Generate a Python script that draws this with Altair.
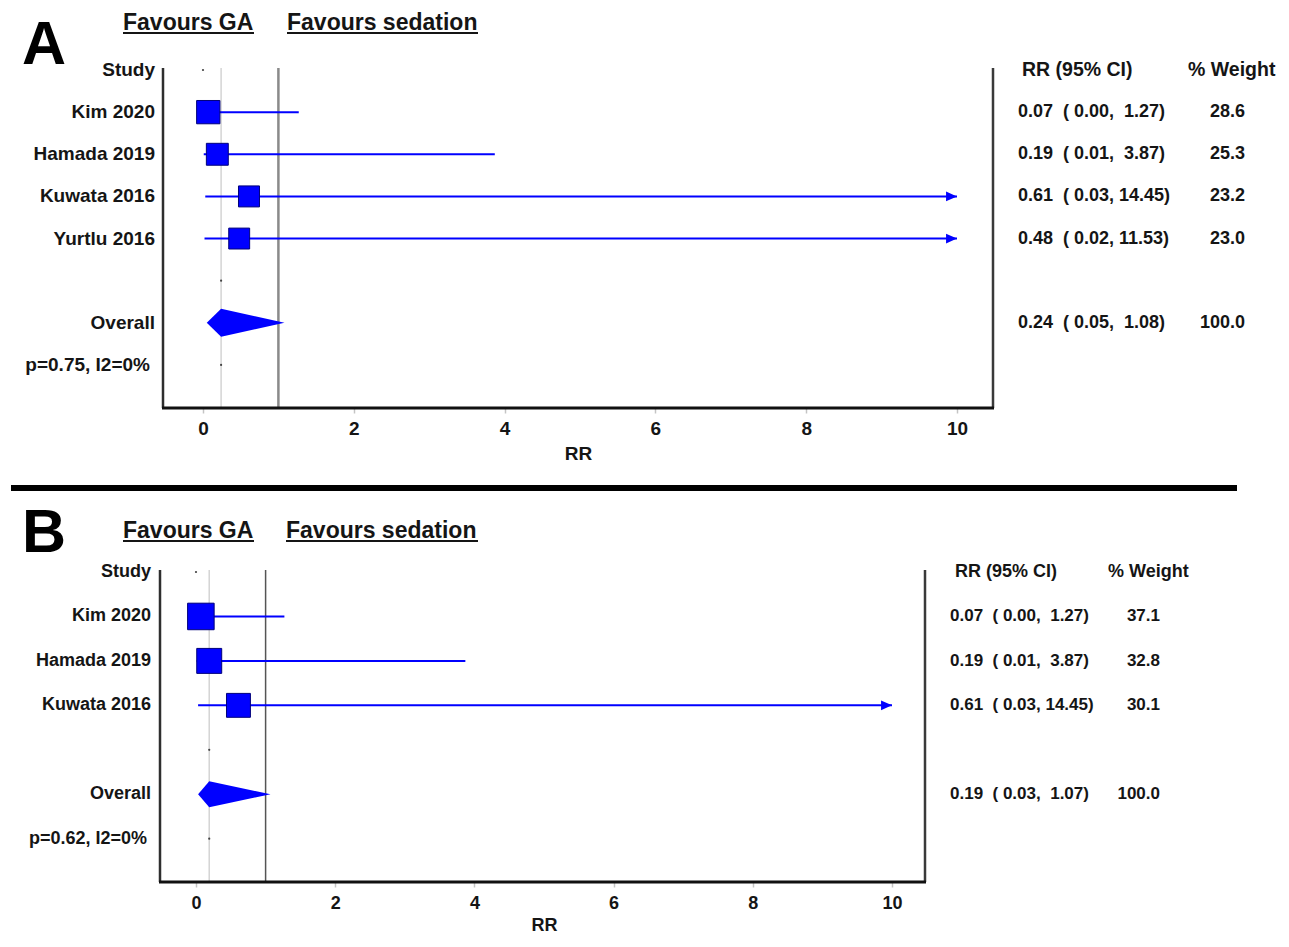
import altair as alt
import pandas as pd

FONT = "Liberation Sans"
BLUE = "#0000ff"
INK = "#151515"
NB = "\u00a0"

# ---------------- data ----------------
A_studies = ["Kim 2020", "Hamada 2019", "Kuwata 2016", "Yurtlu 2016"]
A_rr = [0.07, 0.19, 0.61, 0.48]
A_lo = [0.00, 0.01, 0.03, 0.02]
A_hi = [1.27, 3.87, 14.45, 11.53]
A_wt = [28.6, 25.3, 23.2, 23.0]
A_overall = [0.24, 0.05, 1.08]
A_het = "p=0.75, I2=0%"

B_studies = ["Kim 2020", "Hamada 2019", "Kuwata 2016"]
B_rr = [0.07, 0.19, 0.61]
B_lo = [0.00, 0.01, 0.03]
B_hi = [1.27, 3.87, 14.45]
B_wt = [37.1, 32.8, 30.1]
B_overall = [0.19, 0.03, 1.07]
B_het = "p=0.62, I2=0%"

X_TICKS = [0, 2, 4, 6, 8, 10]
X_CAP = 10
NULL_VALUE = 1
HEADERS = ["Favours GA", "Favours sedation"]
COL_HEAD = ["Study", "RR (95% CI)", "% Weight"]
OVERALL_LABEL = "Overall"

ARROW = "M0,0L-1,-0.45L-1,0.45Z"


def ci_text(a, b, c):
    s = f"{a:.2f}  ( {b:.2f}, {c:5.2f})"
    return s.replace(" ", NB)


def one():
    return alt.Chart(pd.DataFrame({"k": [0]}))


def panel(letter, studies, rr, lo, hi, wt, overall, het, L):
    x0, x1, y0, y1 = L["x0"], L["x1"], L["y0"], L["y1"]
    W, H = x1 - x0, y1 - y0
    xdom = [(x0 - L["zero"]) / L["unit"], (x1 - L["zero"]) / L["unit"]]
    ydom = [(y0 - L["row0"]) / L["step"], (y1 - L["row0"]) / L["step"]]
    xs = alt.Scale(domain=xdom, nice=False, zero=False)
    ys = alt.Scale(domain=ydom, nice=False, zero=False, reverse=True)
    ax = alt.Axis(values=X_TICKS, format="d", grid=False, domain=False,
                  tickColor="#c4c4c4", tickWidth=1.5, tickSize=5,
                  labelFont=FONT, labelFontWeight="bold", labelFontSize=L["afs"],
                  labelColor=INK, labelPadding=L["lpad"], labelFlush=False,
                  titleFont=FONT, titleFontWeight="bold", titleFontSize=L["afs"],
                  titleColor=INK, titlePadding=L["tpad"])

    def X(f):
        return alt.X(f"{f}:Q", scale=xs, axis=ax, title="RR")

    def Y(f="row"):
        return alt.Y(f"{f}:Q", scale=ys, axis=None)

    def px(v):
        return alt.value(v - x0)

    def py(v):
        return alt.value(v - y0)

    n = len(studies)
    df = pd.DataFrame({"row": list(range(1, n + 1)), "label": studies, "rr": rr,
                       "lo": lo, "hi": hi, "wt": wt})
    df["hi_draw"] = df["hi"].clip(upper=X_CAP)
    df["cap"] = X_CAP
    df["ci"] = [ci_text(a, b, c) for a, b, c in zip(rr, lo, hi)]
    df["wts"] = [f"{w:.1f}" for w in wt]

    r_ov = n + 2
    r_het = n + 3
    ov = pd.DataFrame({"row": [r_ov], "est": [overall[0]], "label": [OVERALL_LABEL],
                       "ci": [ci_text(*overall)], "wts": ["100.0"]})
    h = L["dh"] / L["step"]
    dia = pd.DataFrame({"x": [overall[1], overall[0], overall[2]],
                        "ya": [r_ov, r_ov - h, r_ov], "yb": [r_ov, r_ov + h, r_ov]})
    dots = pd.DataFrame({"row": [0, n + 1, r_het], "x": [0, overall[0], overall[0]]})
    nulldf = pd.DataFrame({"x": [NULL_VALUE]})
    head = pd.DataFrame({"row": [0]})

    txt = dict(font=FONT, fontWeight="bold", color=INK)

    layers = []
    # frame: left, right and bottom lines
    layers.append(one().mark_rule(color="#2e2e2e", strokeWidth=2.5).encode(
        x=px(L["fx"]), y=alt.value(0), y2=alt.value(H)))
    layers.append(one().mark_rule(color="#3a3a3a", strokeWidth=2.5).encode(
        x=alt.value(W), y=alt.value(0), y2=alt.value(H)))
    # overall estimate line
    layers.append(alt.Chart(ov).mark_rule(color="#d4d4d4", strokeWidth=1.5).encode(
        x=X("est"), y=alt.value(0), y2=alt.value(H)))
    # null line
    layers.append(alt.Chart(nulldf).mark_rule(color=L["ncol"], strokeWidth=L["nw"]).encode(
        x=X("x"), y=alt.value(0), y2=alt.value(H)))
    layers.append(one().mark_rule(color="#111", strokeWidth=3).encode(
        x=px(L["fx"] - 1), x2=alt.value(W + 1), y=alt.value(H)))
    # CI lines
    layers.append(alt.Chart(df).mark_rule(color=BLUE, strokeWidth=2).encode(
        x=X("lo"), x2=alt.X2("hi_draw"), y=Y()))
    # arrows for truncated CIs
    layers.append(alt.Chart(df[df["hi"] > X_CAP]).mark_point(
        shape=ARROW, filled=True, color=BLUE, opacity=1, strokeWidth=0, size=480).encode(
        x=X("cap"), y=Y()))
    # squares
    layers.append(alt.Chart(df).mark_square(color=BLUE, opacity=1, stroke="#00007a",
                                            strokeWidth=1).encode(
        x=X("rr"), y=Y(),
        size=alt.Size("wt:Q", scale=alt.Scale(domain=[0, 40], range=[0, 760]), legend=None)))
    # diamond
    layers.append(alt.Chart(dia).mark_area(color=BLUE, opacity=1).encode(
        x=X("x"), y=Y("ya"), y2=alt.Y2("yb")))
    # tiny dots
    layers.append(alt.Chart(dots).mark_circle(color="#444", size=5, opacity=1).encode(
        x=X("x"), y=Y()))
    # left labels
    for d in (df, ov):
        layers.append(alt.Chart(d).mark_text(align="right", baseline="middle",
                                             fontSize=L["lfs"], **txt).encode(
            x=px(L["lab_x"]), y=Y(), text="label:N"))
    layers.append(alt.Chart(head).mark_text(align="right", baseline="middle",
                                            fontSize=L["lfs"], text=COL_HEAD[0], **txt).encode(
        x=px(L["lab_x"]), y=Y()))
    layers.append(alt.Chart(pd.DataFrame({"row": [r_het], "t": [het]})).mark_text(
        align="right", baseline="middle", fontSize=L["lfs"], **txt).encode(
        x=px(L["het_x"]), y=Y(), text="t:N"))
    # right columns
    layers.append(alt.Chart(head).mark_text(align="left", baseline="middle",
                                            fontSize=L["hfs"], text=COL_HEAD[1], **txt).encode(
        x=px(L["c_head"]), y=Y()))
    layers.append(alt.Chart(head).mark_text(align="left", baseline="middle",
                                            fontSize=L["hfs"], text=COL_HEAD[2], **txt).encode(
        x=px(L["w_head"]), y=Y()))
    for d in (df, ov):
        layers.append(alt.Chart(d).mark_text(align="left", baseline="middle",
                                             fontSize=L["dfs"], **txt).encode(
            x=px(L["c_left"]), y=Y(), text="ci:N"))
        layers.append(alt.Chart(d).mark_text(align="right", baseline="middle",
                                             fontSize=L["dfs"], **txt).encode(
            x=px(L["w_right"]), y=Y(), text="wts:N"))
    # panel letter and "favours" headers
    layers.append(one().mark_text(align="left", baseline="alphabetic", fontSize=61,
                                  text=letter, font=FONT, fontWeight="bold",
                                  color="#000").encode(
        x=px(L["let_x"]), y=py(L["let_base"])))
    for t, (hx0, hx1) in zip(HEADERS, L["heads"]):
        layers.append(one().mark_text(align="left", baseline="alphabetic",
                                      fontSize=23, text=t, **txt).encode(
            x=px(hx0), y=py(L["head_base"])))
        layers.append(one().mark_rule(color=INK, strokeWidth=2).encode(
            x=px(hx0), x2=px(hx1), y=py(L["head_base"] + 3)))
    # separator
    if L.get("sep"):
        sx0, sx1, sy = L["sep"]
        layers.append(one().mark_rule(color="#000", strokeWidth=6).encode(
            x=px(sx0), x2=px(sx1), y=py(sy)))
    # invisible layout anchors
    for ay in L["anchors"]:
        layers.append(one().mark_rule(strokeOpacity=0, opacity=0).encode(
            x=px(8), x2=px(9), y=py(ay)))

    return alt.layer(*layers).properties(width=W, height=H)


LA = dict(x0=163, x1=993, y0=68, y1=408, fx=163, zero=203, unit=75.4, row0=70, step=42.14,
          afs=19, lpad=6, tpad=6, lfs=19, hfs=19.5, dfs=18, dh=14,
          ncol="#8a8a8a", nw=2.5, lab_x=155, het_x=150,
          c_left=1018, c_head=1022, w_head=1188, w_right=1245,
          let_x=22, let_base=64, head_base=30,
          heads=[(123, 254), (287, 478)], sep=(11, 1237, 488), anchors=[8, 497])

# panel B is laid out 8 px higher than in the reference to fit the window;
# its plot origin is aligned with panel A's, the frame line sits at fx
LB = dict(x0=163, x1=925, y0=578, y1=890, fx=160, zero=196, unit=69.6, row0=580, step=44.45,
          afs=18, lpad=7, tpad=4, lfs=18, hfs=18, dfs=17, dh=13,
          ncol="#555555", nw=1.5, lab_x=151, het_x=147,
          c_left=950, c_head=955, w_head=1108, w_right=1160,
          let_x=22, let_base=560, head_base=546,
          heads=[(123, 254), (286, 478)], anchors=[505])

pA = panel("A", A_studies, A_rr, A_lo, A_hi, A_wt, A_overall, A_het, LA)
pB = panel("B", B_studies, B_rr, B_lo, B_hi, B_wt, B_overall, B_het, LB)

chart = alt.vconcat(pA, pB, spacing=0).properties(
    padding=0, background="white").configure_view(stroke=None)

chart.save("out.html", embed_options={"renderer": "svg", "actions": False})
